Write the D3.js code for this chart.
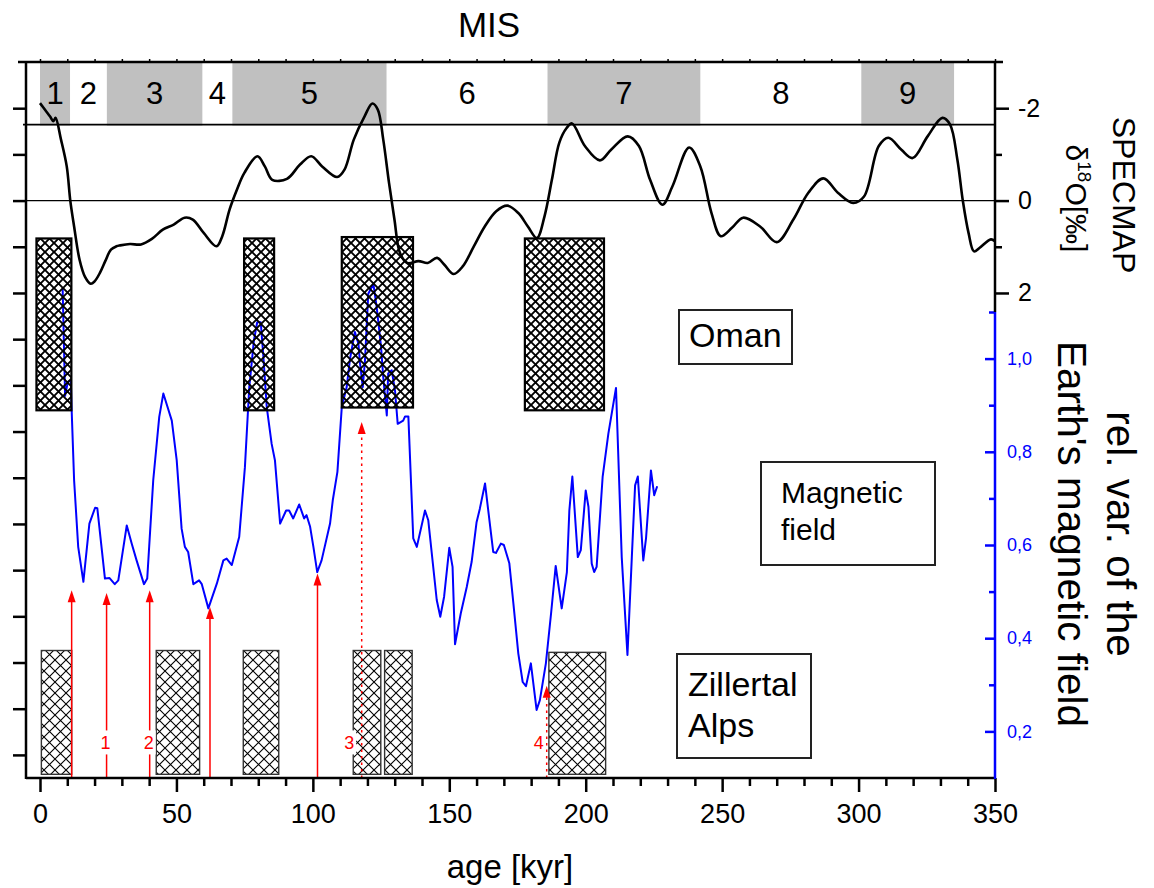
<!DOCTYPE html>
<html>
<head>
<meta charset="utf-8">
<script src="https://cdn.jsdelivr.net/npm/d3@7"></script>
<style>
  body { margin: 0; background: #fff; }
  svg { display: block; }
  text { font-family: "Liberation Sans", Arial, Helvetica, sans-serif; }
</style>
</head>
<body>
<svg id="chart" width="1154" height="888"></svg>
<script>
// ---------------- DATA ----------------
const misBounds = [0, 11, 24.5, 59.5, 70.5, 127, 186, 242, 301, 335];
const misLabels = ["1", "2", "3", "4", "5", "6", "7", "8", "9"];

const specmapAge = [0, 2.3, 3.7, 4.9, 5.7, 7.7, 9.8, 11.1, 12.5, 14.5, 16.5, 18.6, 20, 22, 24, 26, 28, 29.4, 33, 37,
  41, 45, 49, 53, 56, 60, 64.7, 66.8, 69.5, 72.2, 74.9, 79.7, 82.4, 85.1, 90.5, 95.3, 99.4, 103.4, 108.9, 111.6,
  115, 119, 121.8, 123.8, 125.8, 127.9, 129.9, 131.9, 134.6, 138.7, 142.1, 145.5, 148.2, 151.6, 155, 159, 163, 167.2,
  171.3, 175.3, 178.8, 182.1, 184.9, 187.6, 190.3, 193, 195, 199.7, 205.2, 209.3, 215.4, 219.5, 223.6, 228.1, 231.8,
  237.9, 242, 246.1, 249.5, 253.6, 257.7, 263.9, 270, 276.1, 281.6, 287.1, 292.4, 298, 302, 307.4, 310.9, 315.7,
  319.8, 325.3, 330.7, 333.5, 336.2, 338.2, 340.3, 342.3, 344.4, 348.5, 350];
const specmapD18O = [-2.11, -1.93, -1.82, -1.72, -1.79, -1.32, -0.74, 0, 0.56, 1.28, 1.65, 1.8, 1.75, 1.56, 1.3, 1.06, 0.99, 0.97, 0.94, 0.95,
  0.83, 0.63, 0.52, 0.37, 0.41, 0.7, 0.99, 0.77, 0.19, -0.24, -0.6, -0.96, -0.74, -0.45, -0.47, -0.78, -0.96, -0.74, -0.51, -0.67,
  -1.32, -1.83, -2.1, -1.97, -1.32, -0.39, 0.41, 1.13, 1.35, 1.31, 1.35, 1.24, 1.39, 1.59, 1.42, 0.99, 0.56, 0.23,
  0.11, 0.27, 0.56, 0.81, 0.34, -0.45, -1.25, -1.57, -1.67, -1.18, -0.87, -1.1, -1.39, -1.18, -0.45, 0.09, -0.31,
  -1.15, -0.74, 0.27, 0.77, 0.59, 0.37, 0.56, 0.9, 0.41, -0.17, -0.48, -0.17, 0.05, -0.09, -1.18, -1.36, -1.1,
  -0.92, -1.39, -1.79, -1.65, -0.89, 0, 0.7, 1.1, 1.02, 0.84, 0.88];

const magAge = [8.3, 9.2, 10.2, 11.3, 11.6, 12.5, 14.0, 15.9, 18.1, 20.2, 21.0, 23.8, 25.5, 27.4, 28.7, 31.8, 33.6, 35.4,
  38.1, 39.3, 41.5, 43.7, 45.2, 48.3, 50.1, 51.9, 53.1, 54.3, 56.2, 58.3, 59.3, 61.7, 64.8, 67.2, 68.4, 70.3, 73.0,
  75.1, 76.7, 78.4, 79.6, 80.9, 81.8, 83.1, 84.9, 86.1, 88.0, 90.2, 91.3, 92.8, 95.0, 96.8, 97.7, 99.0, 100.2, 101.6,
  103.2, 106.3, 107.3, 109.0, 110.6, 112.4, 113.6, 115.4, 116.7, 117.3, 118.3, 119.1, 120.3, 122.2, 123.4, 125.0,
  125.8, 127.1, 127.6, 128.9, 130.1, 131.1, 133.1, 133.8, 135.0, 136.8, 138.1, 141.1, 142.3, 145.4, 146.7, 148.1,
  150.0, 151.2, 152.1, 154.2, 156.4, 158.2, 160.0, 161.2, 163.1, 166.1, 167.1, 168.9, 170.0, 172.0, 173.5, 175.3,
  176.9, 178.1, 179.9, 182.0, 183.2, 185.4, 187.3, 189.0, 191.2, 193.1, 194.0, 195.1, 197.1, 198.2, 200.0, 201.0,
  202.2, 203.1, 204.0, 206.2, 208.3, 211.1, 213.2, 215.3, 216.9, 218.1, 219.1, 221.1, 222.1, 223.9, 225.1, 226.2];
const magRel = [1.15, 0.92, 0.95, 0.953, 0.89, 0.739, 0.596, 0.521, 0.646, 0.68, 0.679, 0.528, 0.529, 0.516, 0.524, 0.642, 0.603, 0.567,
  0.516, 0.528, 0.739, 0.875, 0.925, 0.867, 0.782, 0.635, 0.596, 0.585, 0.516, 0.524, 0.516, 0.464, 0.517, 0.567, 0.571, 0.557, 0.617,
  0.767, 0.939, 1.039, 1.078, 1.078, 1.01, 0.896, 0.817, 0.782, 0.646, 0.674, 0.674, 0.657, 0.687, 0.657, 0.664, 0.639, 0.596, 0.542,
  0.567, 0.646, 0.696, 0.757, 0.896, 0.939, 0.999, 1.057, 1.032, 0.989, 0.939, 0.996, 1.139, 1.16, 1.11, 1.025,
  0.96, 0.878, 0.968, 0.975, 0.932, 0.86, 0.867, 0.876, 0.876, 0.614, 0.596, 0.674, 0.653, 0.482, 0.446, 0.489,
  0.594, 0.553, 0.387, 0.453, 0.51, 0.564, 0.649, 0.678, 0.732, 0.585, 0.583, 0.603, 0.6, 0.561, 0.474, 0.367,
  0.306, 0.297, 0.346, 0.246, 0.267, 0.346, 0.453, 0.555, 0.464, 0.542, 0.674, 0.747, 0.574, 0.589, 0.717, 0.682,
  0.56, 0.542, 0.553, 0.746, 0.839, 0.937, 0.574, 0.364, 0.574, 0.728, 0.747, 0.567, 0.614, 0.76, 0.707, 0.726];

// Oman speleothem growth phases (kyr), vertical extent in left-axis units
const omanStart = [-1.3, 74.8, 110.6, 177.7];
const omanEnd = [11.5, 85.8, 136.7, 206.7];
const omanTop = [0.82, 0.82, 0.79, 0.82];
const omanBottom = [4.54, 4.54, 4.48, 4.54];

// Zillertal Alps growth phases (kyr)
const zillStart = [0.5, 42.6, 74.5, 114.8, 126.3, 186.5];
const zillEnd = [11.6, 58.5, 87.5, 124.9, 136.4, 207.3];
const zillTop = [9.74, 9.74, 9.74, 9.74, 9.74, 9.78];
const zillBottom = [12.42, 12.42, 12.42, 12.42, 12.42, 12.42];

// red arrows: age and magnetic value at the tip
const arrowAge = [11.6, 24.4, 40.2, 62.3, 101.7, 117.9, 185.7];
const arrowTip = [0.503, 0.497, 0.503, 0.467, 0.539, 0.864, 0.298];
const arrowDotted = [false, false, false, false, false, true, true];
const arrowLabel = ["", "1", "2", "", "", "3", "4"];

const xTicks = [0, 50, 100, 150, 200, 250, 300, 350];
const specTicks = [-2, 0, 2];
const specMinor = [-1, 1];
const leftTicks = [-2, -1, 0, 1, 2, 3, 4, 5, 6, 7, 8, 9, 10, 11, 12];
const magTicks = [0.2, 0.4, 0.6, 0.8, 1.0];
const magMinor = [0.3, 0.5, 0.7, 0.9, 1.1];

// ---------------- DRAW ----------------
const svg = d3.select("#chart");
const x = d3.scaleLinear().domain([0, 350]).range([40, 995]);
const yL = d3.scaleLinear().domain([-3, 12.5]).range([62, 778]);
const yM = d3.scaleLinear().domain([0.1, 1.1]).range([778, 312]);
const L = 26, R = x(350), T = 62, B = 778;
const misLine = -1.645;

const defs = svg.append("defs");
const pO = defs.append("pattern").attr("id", "hatchOman").attr("patternUnits", "userSpaceOnUse")
  .attr("width", 9).attr("height", 9);
pO.append("path").attr("d", "M-2,-2L11,11M11,-2L-2,11").attr("stroke", "#000").attr("stroke-width", 1.9);
const pZ = defs.append("pattern").attr("id", "hatchZill").attr("patternUnits", "userSpaceOnUse")
  .attr("width", 11).attr("height", 11);
pZ.append("rect").attr("width", 11).attr("height", 11).attr("fill", "#fff");
pZ.append("path").attr("d", "M-2,-2L13,13M13,-2L-2,13").attr("stroke", "#000").attr("stroke-width", 1.1);

// MIS bands
const bands = d3.range(misLabels.length).map(i => ({ a: misBounds[i], b: misBounds[i + 1], label: misLabels[i], grey: i % 2 === 0 }));
svg.append("g").selectAll("rect").data(bands.filter(d => d.grey)).join("rect")
  .attr("x", d => x(d.a)).attr("width", d => x(d.b) - x(d.a))
  .attr("y", T).attr("height", yL(misLine) - T + 1)
  .attr("fill", "#c0c0c0");
svg.append("g").selectAll("text").data(bands).join("text")
  .attr("x", d => x((d.a + d.b) / 2)).attr("y", 104)
  .attr("text-anchor", "middle").attr("font-size", 31).text(d => d.label);

// Zillertal hatched rectangles
const zill = zillStart.map((s, i) => ({ s, e: zillEnd[i], t: zillTop[i], b: zillBottom[i] }));
svg.append("g").selectAll("rect").data(zill).join("rect")
  .attr("x", d => x(d.s)).attr("width", d => x(d.e) - x(d.s))
  .attr("y", d => yL(d.t)).attr("height", d => yL(d.b) - yL(d.t))
  .attr("fill", "url(#hatchZill)").attr("stroke", "#333").attr("stroke-width", 1.4);

// horizontal reference lines
svg.append("line").attr("x1", L - 3).attr("x2", R).attr("y1", yL(misLine)).attr("y2", yL(misLine))
  .attr("stroke", "#000").attr("stroke-width", 1.8);
svg.append("line").attr("x1", L).attr("x2", R).attr("y1", yL(0)).attr("y2", yL(0))
  .attr("stroke", "#000").attr("stroke-width", 1.2);

// magnetic field curve
const magData = magAge.map((a, i) => [a, magRel[i]]);
svg.append("path").datum(magData)
  .attr("d", d3.line().x(d => x(d[0])).y(d => yM(d[1])))
  .attr("fill", "none").attr("stroke", "#0000ff").attr("stroke-width", 2).attr("stroke-linejoin", "round");

// Oman hatched rectangles (hatch drawn over the blue curve)
const oman = omanStart.map((s, i) => ({ s, e: omanEnd[i], t: omanTop[i], b: omanBottom[i] }));
svg.append("g").selectAll("rect").data(oman).join("rect")
  .attr("x", d => x(d.s)).attr("width", d => x(d.e) - x(d.s))
  .attr("y", d => yL(d.t)).attr("height", d => yL(d.b) - yL(d.t))
  .attr("fill", "url(#hatchOman)").attr("stroke", "#000").attr("stroke-width", 2.2);

// SPECMAP curve
const specData = specmapAge.map((a, i) => [a, specmapD18O[i]]);
svg.append("path").datum(specData)
  .attr("d", d3.line().x(d => x(d[0])).y(d => yL(d[1])).curve(d3.curveCatmullRom.alpha(0.5)))
  .attr("fill", "none").attr("stroke", "#000").attr("stroke-width", 2.6).attr("stroke-linejoin", "round");

// red arrows
const arrows = arrowAge.map((a, i) => ({ a, tip: arrowTip[i], dotted: arrowDotted[i], label: arrowLabel[i] }));
const ag = svg.append("g");
arrows.forEach(d => {
  const ax = x(d.a), ty = yM(d.tip);
  ag.append("line").attr("x1", ax).attr("x2", ax).attr("y1", B).attr("y2", ty + 10)
    .attr("stroke", "#ff0000").attr("stroke-width", 1.5)
    .attr("stroke-dasharray", d.dotted ? "2.5,4" : null);
  ag.append("path").attr("d", `M${ax},${ty}L${ax - 4},${ty + 12}L${ax + 4},${ty + 12}Z`).attr("fill", "#ff0000");
});
const labelOffset = { "1": -1, "2": -1, "3": -12.5, "4": -8 };
arrows.filter(d => d.label).forEach(d => {
  const lx = x(d.a) + labelOffset[d.label], ly = yL(11.73);
  ag.append("rect").attr("x", lx - 7).attr("y", ly - 12).attr("width", 14).attr("height", 24).attr("fill", "#fff");
  ag.append("text").attr("x", lx).attr("y", ly + 6.5).attr("text-anchor", "middle")
    .attr("font-size", 18).attr("fill", "#ff0000").text(d.label);
});

// annotation boxes
function box(x0, y0, x1, y1, lines, tx, baselines, fs) {
  const g = svg.append("g");
  g.append("rect").attr("x", x0).attr("y", y0).attr("width", x1 - x0).attr("height", y1 - y0)
    .attr("fill", "#fff").attr("stroke", "#222").attr("stroke-width", 2);
  lines.forEach((t, i) => g.append("text").attr("x", tx).attr("y", baselines[i]).attr("font-size", fs).text(t));
}
box(679, 310, 792, 364, ["Oman"], 689, [347], 34);
box(761, 462, 935, 565, ["Magnetic", "field"], 781, [503, 540], 30);
box(677, 654, 811, 758, ["Zillertal", "Alps"], 688, [696, 737], 34);

// ---------------- AXES ----------------
const axW = 2.5;
function styleAxis(g, color) {
  g.select(".domain").remove();
  g.selectAll(".tick line").attr("stroke", color).attr("stroke-width", axW);
  g.selectAll(".tick text").attr("fill", color).attr("font-family", '"Liberation Sans", Arial, sans-serif');
}
const plain = d => String(d);
// bottom
const gb = svg.append("g").attr("transform", `translate(0,${B})`)
  .call(d3.axisBottom(x).tickValues(xTicks).tickSize(14).tickPadding(12).tickFormat(plain));
styleAxis(gb, "#000"); gb.selectAll(".tick text").attr("font-size", 27);
const gbm = svg.append("g").attr("transform", `translate(0,${B})`)
  .call(d3.axisBottom(x).tickValues(d3.range(10, 350, 10).filter(v => v % 50 !== 0)).tickSize(8).tickFormat(""));
styleAxis(gbm, "#000");
// top minor ticks
const gt = svg.append("g").attr("transform", `translate(0,${T})`)
  .call(d3.axisTop(x).tickValues(d3.range(0, 351, 10)).tickSize(3).tickFormat(""));
styleAxis(gt, "#000"); gt.selectAll(".tick line").attr("stroke-width", 1.5);
// left
const gl = svg.append("g").attr("transform", `translate(${L},0)`)
  .call(d3.axisLeft(yL).tickValues(leftTicks).tickSize(13).tickFormat(""));
styleAxis(gl, "#000");
// right SPECMAP
const gr = svg.append("g").attr("transform", `translate(${R},0)`)
  .call(d3.axisRight(yL).tickValues(specTicks).tickSize(14).tickPadding(9).tickFormat(plain));
styleAxis(gr, "#000"); gr.selectAll(".tick text").attr("font-size", 25);
const grm = svg.append("g").attr("transform", `translate(${R},0)`)
  .call(d3.axisRight(yL).tickValues(specMinor).tickSize(7).tickFormat(""));
styleAxis(grm, "#000");
// right magnetic (blue)
const fmt = d => d.toFixed(1).replace(".", ",");
const gm = svg.append("g").attr("transform", `translate(${R},0)`)
  .call(d3.axisRight(yM).tickValues(magTicks).tickSizeInner(-10).tickSizeOuter(0).tickPadding(12).tickFormat(fmt));
styleAxis(gm, "#0000ff"); gm.selectAll(".tick text").attr("font-size", 18).attr("x", 12);
const gmm = svg.append("g").attr("transform", `translate(${R},0)`)
  .call(d3.axisRight(yM).tickValues(magMinor).tickSizeInner(-6).tickSizeOuter(0).tickFormat(""));
styleAxis(gmm, "#0000ff");

// frame lines
svg.append("line").attr("x1", L).attr("x2", R).attr("y1", B).attr("y2", B).attr("stroke", "#000").attr("stroke-width", axW);
svg.append("line").attr("x1", L - 8).attr("x2", R + 8).attr("y1", T).attr("y2", T).attr("stroke", "#000").attr("stroke-width", axW);
svg.append("line").attr("x1", L).attr("x2", L).attr("y1", T).attr("y2", B + 1).attr("stroke", "#000").attr("stroke-width", axW);
svg.append("line").attr("x1", R).attr("x2", R).attr("y1", T).attr("y2", yM(1.1)).attr("stroke", "#000").attr("stroke-width", axW);
svg.append("line").attr("x1", R).attr("x2", R).attr("y1", yM(1.1)).attr("y2", B + 1).attr("stroke", "#0000ff").attr("stroke-width", axW);

// titles
svg.append("text").attr("x", 489).attr("y", 37).attr("text-anchor", "middle").attr("font-size", 35).text("MIS");
svg.append("text").attr("x", 510).attr("y", 878).attr("text-anchor", "middle").attr("font-size", 33).text("age [kyr]");
svg.append("text").attr("transform", "translate(1113,195) rotate(90)").attr("text-anchor", "middle")
  .attr("font-size", 32).text("SPECMAP");
const dt = svg.append("text").attr("transform", "translate(1066,198.5) rotate(90)").attr("text-anchor", "middle")
  .attr("font-size", 30);
dt.append("tspan").text("δ");
dt.append("tspan").attr("font-size", 19).attr("dy", -12).text("18");
dt.append("tspan").attr("dy", 12).text("O[‰]");
svg.append("text").attr("transform", "translate(1107,534) rotate(90)").attr("text-anchor", "middle")
  .attr("font-size", 40.5).text("rel. var. of the");
svg.append("text").attr("transform", "translate(1058,534) rotate(90)").attr("text-anchor", "middle")
  .attr("font-size", 40.5).text("Earth's magnetic field");
</script>
</body>
</html>
